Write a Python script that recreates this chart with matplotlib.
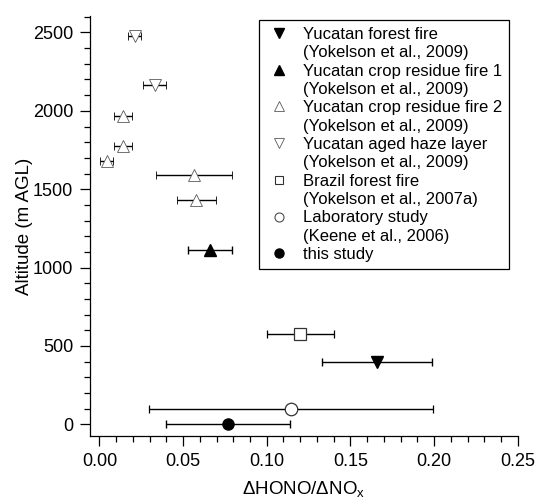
import numpy as np
import matplotlib
matplotlib.use("Agg")
import matplotlib.pyplot as plt
from matplotlib.lines import Line2D
from matplotlib.ticker import MultipleLocator, FormatStrFormatter

plt.rcParams["font.family"] = "Liberation Sans"
plt.rcParams["mathtext.fontset"] = "custom"
plt.rcParams["mathtext.rm"] = "Liberation Sans"
plt.rcParams["mathtext.it"] = "Liberation Sans:italic"

# data: ratio, altitude (m AGL), ratio error
forest_x = [0.166]
forest_alt = [395]
forest_err = [0.033]

crop1_x = [0.066]
crop1_alt = [1110]
crop1_err = [0.013]

crop2_x = [0.014, 0.014, 0.0044, 0.0566, 0.058]
crop2_alt = [1966, 1775, 1677, 1589, 1431]
crop2_err = [0.0055, 0.0055, 0.004, 0.0228, 0.0117]

haze_x = [0.021, 0.033]
haze_alt = [2475, 2166]
haze_err = [0.004, 0.007]

brazil_x = [0.12]
brazil_alt = [576]
brazil_err = [0.02]

lab_x = [0.1145]
lab_alt = [100]
lab_err = [0.085]

study_x = [0.077]
study_alt = [0]
study_err = [0.037]

labels = ["Yucatan forest fire", "(Yokelson et al., 2009)",
          "Yucatan crop residue fire 1", "(Yokelson et al., 2009)",
          "Yucatan crop residue fire 2", "(Yokelson et al., 2009)",
          "Yucatan aged haze layer", "(Yokelson et al., 2009)",
          "Brazil forest fire", "(Yokelson et al., 2007a)",
          "Laboratory study", "(Keene et al., 2006)",
          "this study"]

fig = plt.figure(figsize=(5.38, 5.04), dpi=100)
ax = fig.add_axes([0.1673, 0.1349, 0.7950, 0.8333])

ebkw = dict(linestyle="none", ecolor="black", elinewidth=1.0, capsize=3.2, capthick=1.0)
open_kw = dict(mfc="white", mec="0.35", mew=0.6)

ax.errorbar(crop2_x, crop2_alt, xerr=crop2_err, marker="^", ms=8, **open_kw, **ebkw)
ax.errorbar(haze_x, haze_alt, xerr=haze_err, marker="v", ms=8, **open_kw, **ebkw)
ax.errorbar(brazil_x, brazil_alt, xerr=brazil_err, marker="s", ms=8.5, mfc="white", mec="0.2", mew=0.9, **ebkw)
ax.errorbar(lab_x, lab_alt, xerr=lab_err, marker="o", ms=9, mfc="white", mec="0.2", mew=0.9, **ebkw)
ax.errorbar(forest_x, forest_alt, xerr=forest_err, marker="v", ms=9, color="black", **ebkw)
ax.errorbar(crop1_x, crop1_alt, xerr=crop1_err, marker="^", ms=9, color="black", **ebkw)
ax.errorbar(study_x, study_alt, xerr=study_err, marker="o", ms=8, color="black", **ebkw)

ax.set_xlim(-0.0056, 0.25)
ax.set_ylim(-75, 2605)
ax.xaxis.set_major_locator(MultipleLocator(0.05))
ax.xaxis.set_minor_locator(MultipleLocator(0.01))
ax.xaxis.set_major_formatter(FormatStrFormatter("%.2f"))
ax.yaxis.set_major_locator(MultipleLocator(500))
ax.yaxis.set_minor_locator(MultipleLocator(100))
ax.spines["top"].set_visible(False)
ax.spines["right"].set_visible(False)
for s in ("left", "bottom"):
    ax.spines[s].set_linewidth(0.9)
ax.tick_params(which="major", direction="out", length=7, width=0.9, labelsize=13, pad=5)
ax.tick_params(which="minor", direction="out", length=4, width=0.9)

ax.set_xlabel("ΔHONO/ΔNO$_\\mathrm{x}$", fontsize=13.5, labelpad=7)
ax.set_ylabel("Altitude (m AGL)", fontsize=13.5, labelpad=0)

# legend: one row per text line, marker only on the first line of each entry
blank = Line2D([], [], linestyle="none")
handles = [
    Line2D([], [], linestyle="none", marker="v", ms=7, color="black"), blank,
    Line2D([], [], linestyle="none", marker="^", ms=7, color="black"), blank,
    Line2D([], [], linestyle="none", marker="^", ms=6.5, mfc="white", mec="0.35", mew=0.6), blank,
    Line2D([], [], linestyle="none", marker="v", ms=6.5, mfc="white", mec="0.35", mew=0.6), blank,
    Line2D([], [], linestyle="none", marker="s", ms=6, mfc="white", mec="0.2", mew=0.8), blank,
    Line2D([], [], linestyle="none", marker="o", ms=6.5, mfc="white", mec="0.3", mew=0.8), blank,
    Line2D([], [], linestyle="none", marker="o", ms=6.5, color="black"),
]
leg = fig.legend(handles, labels, loc="upper right",
                 bbox_to_anchor=(517 / 538, 1 - 12 / 504),
                 bbox_transform=fig.transFigure,
                 fontsize=12, labelspacing=0.2, handlelength=1.6,
                 handletextpad=0.6, borderpad=0.4, fancybox=False,
                 framealpha=1, edgecolor="black")
leg.get_frame().set_linewidth(0.9)

fig.savefig("out.png", dpi=100)
